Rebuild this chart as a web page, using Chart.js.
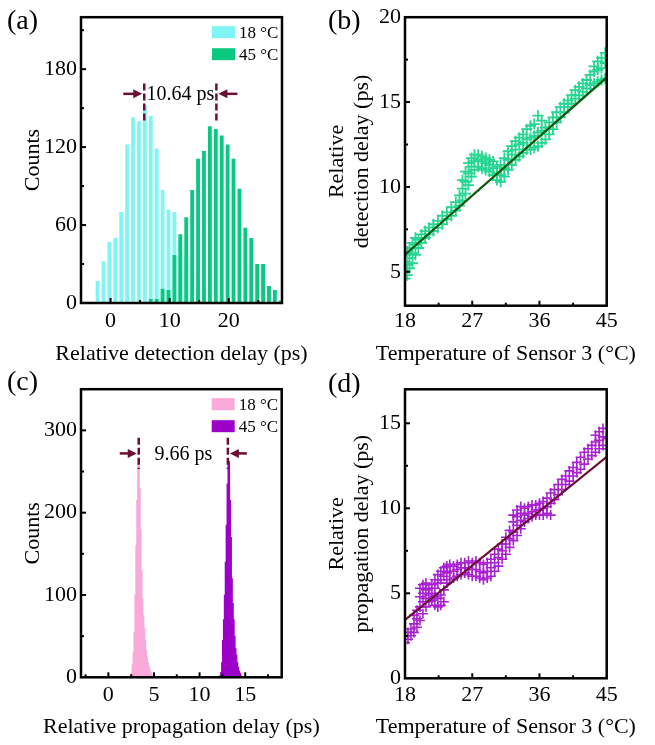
<!doctype html>
<html>
<head>
<meta charset="utf-8">
<title>Detection and propagation delay vs temperature</title>
<script src="https://cdn.jsdelivr.net/npm/chart.js@4.4.1/dist/chart.umd.min.js"></script>
<style>
  body { margin: 0; background: #fff; }
  #wrap { position: relative; width: 655px; height: 745px; overflow: hidden; }
  #wrap canvas { position: absolute; }
  .tag { position: absolute; font: 28px 'Liberation Serif', 'Times New Roman', serif; line-height: 1; color: #000; }
</style>
</head>
<body>
<div id="wrap">
  <canvas id="ca" width="320" height="372" style="left:0;top:0"></canvas>
  <canvas id="cb" width="335" height="372" style="left:320px;top:0"></canvas>
  <canvas id="cc" width="320" height="373" style="left:0;top:372px"></canvas>
  <canvas id="cd" width="335" height="373" style="left:320px;top:372px"></canvas>
  <div class="tag" style="left:7px;top:6px">(a)</div>
  <div class="tag" style="left:328px;top:6px">(b)</div>
  <div class="tag" style="left:7px;top:367px">(c)</div>
  <div class="tag" style="left:328px;top:369px">(d)</div>
</div>
<script>
// (a) detection delay histograms, 1 ps bins
const binsA = [-4.2, -3.2, -2.2, -1.2, -0.2, 0.8, 1.8, 2.8, 3.8, 4.8, 5.8, 6.8, 7.8, 8.8, 9.8, 10.8, 11.8,
  12.8, 13.8, 14.8, 15.8, 16.8, 17.8, 18.8, 19.8, 20.8, 21.8, 22.8, 23.8, 24.8, 25.8, 26.8, 27.8, 28.8];
const count18A = [1, 1, 17, 32, 47, 50, 70, 122, 143, 140, 152, 144, 119, 87, 72, 70, 48,
  36, 25, 16, 9, 5, 3, 1, 0, 0, 0, 0, 0, 0, 0, 0, 0, 0];
const count45A = [0, 0, 0, 0, 0, 0, 0, 0, 0, 0, 0, 3, 3, 11, 10, 37, 53,
  66, 87, 111, 117, 136, 134, 129, 122, 111, 88, 58, 50, 30, 30, 13, 10, 2];

// (b) detection delay vs temperature of sensor 3
const tempB = [18, 18.3, 18.6, 19, 19.4, 19.8, 20.2, 20.7, 21.2, 21.8, 22.4, 23, 23.6, 24.2, 24.8, 25.3,
  25.7, 26.1, 26.5, 26.9, 27.3, 27.8, 28.3, 28.8, 29.3, 29.8, 30.3, 30.8, 31.3, 31.8, 32.3, 32.8,
  33.3, 33.8, 34.3, 34.8, 35.3, 35.8, 36.3, 36.8, 37.3, 37.8, 38.3, 38.8, 39.3, 39.8, 40.3, 40.8,
  41.3, 41.8, 42.3, 42.8, 43.3, 43.8, 44.3, 44.8];
const delayB = [
  [4.6, 5.0, 5.6, 6.0], [4.8, 5.4, 6.2], [5.2, 5.8, 6.4], [5.5, 6.1, 6.7], [6.0, 6.6, 7.0],
  [6.4, 6.9], [6.7, 7.2], [7.0, 7.4], [7.2, 7.6], [7.4, 7.8], [7.6, 8.0], [7.8, 8.3], [8.1, 8.5],
  [8.3, 8.8], [8.6, 9.1], [8.9, 9.5],
  [9.2, 9.9, 10.4], [9.6, 10.3, 10.9], [10.1, 10.8, 11.4], [10.6, 11.2, 11.7], [11.0, 11.5, 11.9],
  [11.2, 11.6, 11.9], [11.1, 11.5, 11.8], [11.0, 11.4, 11.7], [10.9, 11.3, 11.6], [10.7, 11.1, 11.5],
  [10.4, 10.8, 11.2], [10.3, 10.7, 11.3], [10.6, 11.1, 11.7], [11.0, 11.6, 12.1], [11.3, 11.9, 12.4],
  [11.6, 12.2, 12.7], [11.8, 12.5, 12.9], [12.0, 12.6, 13.1], [12.2, 12.8, 13.4], [12.2, 12.9, 13.6],
  [12.3, 13.0, 13.7], [12.4, 13.2, 14.2], [12.6, 13.3, 13.9],
  [12.8, 13.5], [13.1, 13.8], [13.4, 14.1], [13.8, 14.4], [14.1, 14.7], [14.4, 14.9], [14.7, 15.1],
  [14.9, 15.4], [15.2, 15.7], [15.4, 15.9], [15.6, 16.1], [15.8, 16.3], [16.0, 16.6],
  [16.1, 16.8, 17.1], [16.2, 16.9, 17.4], [16.3, 17.0, 17.6], [16.4, 17.3, 17.9]
];
const fitTempB = [18, 45];
const fitB = [6.0, 16.45];

// (c) propagation delay histograms, 0.1 ps bins
const binsC18 = [2.5, 2.6, 2.7, 2.8, 2.9, 3.0, 3.1, 3.2, 3.3, 3.4, 3.5, 3.6, 3.7, 3.8, 3.9, 4.0,
  4.1, 4.2, 4.3, 4.4, 4.5, 4.6, 4.7, 4.8, 4.9];
const count18C = [2, 5, 15, 30, 55, 100, 160, 215, 260, 230, 180, 130, 95, 75, 60, 45,
  33, 25, 18, 13, 9, 6, 4, 2, 1];
const binsC45 = [12.3, 12.4, 12.5, 12.6, 12.7, 12.8, 12.9, 13.0, 13.1, 13.2, 13.3, 13.4, 13.5, 13.6,
  13.7, 13.8, 13.9, 14.0, 14.1, 14.2, 14.3, 14.4, 14.5];
const count45C = [2, 6, 18, 45, 70, 100, 140, 185, 235, 262, 215, 170, 120, 90,
  70, 50, 35, 27, 18, 12, 8, 5, 2];

// (d) propagation delay vs temperature of sensor 3
const tempD = [18, 18.4, 18.8, 19.2, 19.6, 20, 20.4, 20.8, 21.2, 21.6, 22, 22.4, 22.8, 23.2, 23.6, 24,
  24.5, 25, 25.5, 26, 26.5, 27, 27.5, 28, 28.5, 29, 29.5, 30, 30.5, 31, 31.5, 32, 32.5, 33, 33.5,
  34, 34.5, 35, 35.5, 36, 36.5, 37, 37.5, 38, 38.5, 39, 39.5, 40, 40.5, 41, 41.5, 42, 42.5, 43,
  43.5, 44, 44.5, 45];
const delayD = [
  [2.1, 2.5], [2.3, 2.7], [2.5, 2.9], [2.7, 3.2, 3.7], [3.0, 3.5, 4.0], [3.4, 4.2, 4.8, 5.3],
  [3.8, 4.5, 5.0, 5.5], [4.2, 4.7, 5.2, 5.6], [4.5, 4.9, 5.3], [4.6, 5.0, 5.5], [4.3, 4.8, 5.3, 5.8],
  [4.2, 4.7, 5.6, 6.1], [4.3, 4.9, 5.8, 6.3], [4.5, 5.2, 6.0, 6.5], [5.6, 6.2, 6.6], [5.8, 6.3, 6.7],
  [5.9, 6.3, 6.6], [6.0, 6.4, 6.7], [6.1, 6.5, 6.8], [6.2, 6.5, 6.8], [6.1, 6.5, 6.9], [6.0, 6.4, 6.8],
  [6.0, 6.4, 6.9], [5.9, 6.3, 6.8], [5.8, 6.2, 6.7], [5.9, 6.3, 6.8], [6.0, 6.5, 7.0], [6.3, 6.8, 7.3],
  [6.6, 7.1, 7.6], [7.0, 7.5, 7.9], [7.3, 7.9, 8.3], [7.7, 8.2, 8.7], [8.1, 8.6, 9.2, 9.6],
  [8.4, 9.0, 9.5, 9.9], [8.8, 9.3, 9.7, 10.1], [9.2, 9.6, 10.0], [9.4, 9.7, 10.1], [9.5, 9.8, 10.2],
  [9.6, 9.9, 10.2], [9.6, 9.9, 10.3], [9.6, 10.0, 10.4], [9.7, 10.1, 10.6], [9.6, 10.3, 10.9],
  [10.5, 11.1], [10.8, 11.4], [11.1, 11.7], [11.4, 11.9], [11.6, 12.2], [11.9, 12.4], [12.1, 12.7],
  [12.3, 13.0], [12.6, 13.3], [12.9, 13.5], [13.1, 13.7], [13.3, 13.9, 14.3], [13.5, 14.0, 14.5],
  [13.7, 14.2, 14.7], [13.5, 14.1]
];
const fitTempD = [18, 45];
const fitD = [3.43, 13.03];

// tick labels
const ticksAx = [0, 10, 20];
const ticksAy = [0, 60, 120, 180];
const ticksBx = [18, 27, 36, 45];
const ticksBy = [5, 10, 15, 20];
const ticksCx = [0, 5, 10, 15];
const ticksCy = [0, 100, 200, 300];
const ticksDx = [18, 27, 36, 45];
const ticksDy = [0, 5, 10, 15];

const SERIF = "'Liberation Serif', 'Times New Roman', serif";
const MAROON = '#6b0f35';

// box round the plot area with small inward ticks (major + midpoints)
const framePlugin = {
  id: 'frame',
  afterDraw(chart) {
    const { ctx, chartArea: a, scales: { x, y } } = chart;
    ctx.save();
    ctx.strokeStyle = '#000';
    ctx.lineWidth = 2;
    const marks = (s, vals, len, horiz) => {
      vals.forEach(v => {
        if (v <= s.min || v >= s.max) return;
        const p = s.getPixelForValue(v);
        ctx.beginPath();
        if (horiz) { ctx.moveTo(p, a.bottom); ctx.lineTo(p, a.bottom - len); }
        else { ctx.moveTo(a.left, p); ctx.lineTo(a.left + len, p); }
        ctx.stroke();
      });
    };
    [[x, true], [y, false]].forEach(([s, horiz]) => {
      const major = s.ticks.map(t => t.value);
      const step = major[1] - major[0];
      const minor = [];
      for (let v = major[0] - step / 2; v < s.max; v += step) minor.push(v);
      marks(s, major, 5, horiz);
      marks(s, minor, 3, horiz);
    });
    ctx.lineWidth = 2.5;
    ctx.strokeRect(a.left, a.top, a.right - a.left, a.bottom - a.top);
    ctx.restore();
  }
};

// axis titles drawn by hand so long titles are not squeezed to the plot width
const titlePlugin = {
  id: 'axisTitles',
  afterDraw(chart, args, o) {
    const { ctx, chartArea: a } = chart;
    ctx.save();
    ctx.fillStyle = '#000';
    ctx.font = '22px ' + SERIF;
    ctx.textAlign = 'center';
    ctx.textBaseline = 'middle';
    ctx.fillText(o.xText, (a.left + a.right) / 2, o.xAt);
    ctx.translate(o.yAt, (a.top + a.bottom) / 2);
    ctx.rotate(-Math.PI / 2);
    o.yText.forEach((line, i) => ctx.fillText(line, 0, i * 25));
    ctx.restore();
  }
};

// legend boxes in the top-right corner of the plot area
const legendPlugin = {
  id: 'boxLegend',
  afterDraw(chart) {
    const { ctx, chartArea: a } = chart;
    ctx.save();
    ctx.font = '17px ' + SERIF;
    ctx.textBaseline = 'middle';
    chart.data.datasets.forEach((ds, i) => {
      const bx = a.right - 70, by = a.top + 9 + i * 22;
      ctx.fillStyle = ds.backgroundColor;
      ctx.fillRect(bx, by, 23, 12);
      ctx.fillStyle = '#000';
      ctx.fillText(ds.label, bx + 27, by + 7);
    });
    ctx.restore();
  }
};

function arrow(ctx, from, to, y) {
  const d = Math.sign(to - from);
  ctx.beginPath(); ctx.moveTo(from, y); ctx.lineTo(to - d * 6, y); ctx.stroke();
  ctx.beginPath(); ctx.moveTo(to, y); ctx.lineTo(to - d * 9, y - 4.5); ctx.lineTo(to - d * 9, y + 4.5);
  ctx.closePath(); ctx.fill();
}

// dashed peak markers with arrows and the separation label
const gapPlugin = {
  id: 'peakGap',
  afterDatasetsDraw(chart, args, o) {
    const { ctx, scales: { x, y } } = chart;
    const p1 = x.getPixelForValue(o.x1), p2 = x.getPixelForValue(o.x2);
    const lo = y.getPixelForValue(o.yLow), hi = y.getPixelForValue(o.yHigh), ya = y.getPixelForValue(o.yArrow);
    ctx.save();
    ctx.strokeStyle = MAROON;
    ctx.fillStyle = MAROON;
    ctx.lineWidth = 2.5;
    ctx.setLineDash([7, 3]);
    [p1, p2].forEach(p => { ctx.beginPath(); ctx.moveTo(p, hi); ctx.lineTo(p, lo); ctx.stroke(); });
    ctx.setLineDash([]);
    arrow(ctx, p1 - o.len, p1 - 2, ya);
    arrow(ctx, p2 + o.len, p2 + 2, ya);
    ctx.fillStyle = '#000';
    ctx.font = '20px ' + SERIF;
    ctx.textAlign = 'center';
    ctx.textBaseline = 'middle';
    ctx.fillText(o.text, (p1 + p2) / 2, ya + 1);
    ctx.restore();
  }
};

function axis(min, max, ticks, size, pad, horiz) {
  return {
    type: 'linear', min, max, offset: false,
    grid: { display: false, drawTicks: false },
    border: { display: false },
    ticks: { color: '#000', font: { family: SERIF, size: 22 }, padding: pad },
    afterBuildTicks: s => { s.ticks = ticks.map(v => ({ value: v })); },
    afterFit: s => { if (horiz) s.height = size; else s.width = size; }
  };
}

const base = {
  responsive: false,
  animation: false,
  events: [],
  devicePixelRatio: 1
};
const quiet = { legend: { display: false }, tooltip: { enabled: false } };

const pts = (xs, ys) => xs.flatMap((t, i) => ys[i].map(v => ({ x: t, y: v })));
const line = (xs, ys) => xs.map((t, i) => ({ x: t, y: ys[i] }));

new Chart(document.getElementById('ca'), {
  type: 'bar',
  data: {
    datasets: [
      { label: '18 °C', data: binsA.map((x, i) => ({ x, y: count18A[i] })), backgroundColor: '#80f6f4', order: 2 },
      { label: '45 °C', data: binsA.map((x, i) => ({ x, y: count45A[i] })), backgroundColor: '#09c981', order: 1 }
    ]
  },
  options: {
    ...base,
    layout: { padding: { top: 14, right: 38, left: 0, bottom: 0 } },
    datasets: { bar: { grouped: false, barPercentage: 0.65, categoryPercentage: 1 } },
    scales: { x: axis(-5, 29, ticksAx, 69, 5, true), y: axis(0, 220, ticksAy, 81, 4, false) },
    plugins: {
      ...quiet,
      axisTitles: { xText: 'Relative detection delay (ps)', xAt: 354, yText: ['Counts'], yAt: 33 },
      peakGap: { x1: 5.7, x2: 17.9, yLow: 140, yHigh: 169, yArrow: 161, len: 21, text: '10.64 ps' }
    }
  },
  plugins: [framePlugin, titlePlugin, legendPlugin, gapPlugin]
});

new Chart(document.getElementById('cb'), {
  type: 'scatter',
  data: {
    datasets: [
      { data: line(fitTempB, fitB), showLine: true, borderColor: '#0c5a0c', borderWidth: 2.2, pointRadius: 0, order: 1 },
      { data: pts(tempB, delayB), pointStyle: 'cross', pointRadius: 5.5, borderWidth: 1.8,
        borderColor: '#26d591', backgroundColor: '#26d591', order: 2 }
    ]
  },
  options: {
    ...base,
    layout: { padding: { top: 14, right: 48.3, left: 0, bottom: 0 } },
    scales: { x: axis(18, 45, ticksBx, 66.3, 2, true), y: axis(3, 20, ticksBy, 85, 4, false) },
    plugins: {
      ...quiet,
      axisTitles: { xText: 'Temperature of Sensor 3 (°C)', xAt: 354, yText: ['Relative', 'detection delay (ps)'], yAt: 17 }
    }
  },
  plugins: [framePlugin, titlePlugin]
});

new Chart(document.getElementById('cc'), {
  type: 'bar',
  data: {
    datasets: [
      { label: '18 °C', data: binsC18.map((x, i) => ({ x, y: count18C[i] })), backgroundColor: '#f9aad9' },
      { label: '45 °C', data: binsC45.map((x, i) => ({ x, y: count45C[i] })), backgroundColor: '#9c00c9' }
    ]
  },
  options: {
    ...base,
    layout: { padding: { top: 15.3, right: 38.3, left: 0, bottom: 0 } },
    datasets: { bar: { grouped: false, barThickness: 2 } },
    scales: { x: axis(-3, 19, ticksCx, 67.7, 5, true), y: axis(0, 350, ticksCy, 81, 4, false) },
    plugins: {
      ...quiet,
      axisTitles: { xText: 'Relative propagation delay (ps)', xAt: 355, yText: ['Counts'], yAt: 33 },
      peakGap: { x1: 3.33, x2: 13.1, yLow: 253, yHigh: 291, yArrow: 272, len: 19, text: '9.66 ps' }
    }
  },
  plugins: [framePlugin, titlePlugin, legendPlugin, gapPlugin]
});

new Chart(document.getElementById('cd'), {
  type: 'scatter',
  data: {
    datasets: [
      { data: line(fitTempD, fitD), showLine: true, borderColor: MAROON, borderWidth: 2.2, pointRadius: 0, order: 1 },
      { data: pts(tempD, delayD), pointStyle: 'cross', pointRadius: 5, borderWidth: 1.6,
        borderColor: '#a91fd2', backgroundColor: '#a91fd2', order: 2 }
    ]
  },
  options: {
    ...base,
    layout: { padding: { top: 17.3, right: 48.3, left: 0, bottom: 0 } },
    scales: { x: axis(18, 45, ticksDx, 66.7, 4, true), y: axis(0, 17, ticksDy, 85, 4, false) },
    plugins: {
      ...quiet,
      axisTitles: { xText: 'Temperature of Sensor 3 (°C)', xAt: 355, yText: ['Relative', 'propagation delay (ps)'], yAt: 17 }
    }
  },
  plugins: [framePlugin, titlePlugin]
});
</script>
</body>
</html>
